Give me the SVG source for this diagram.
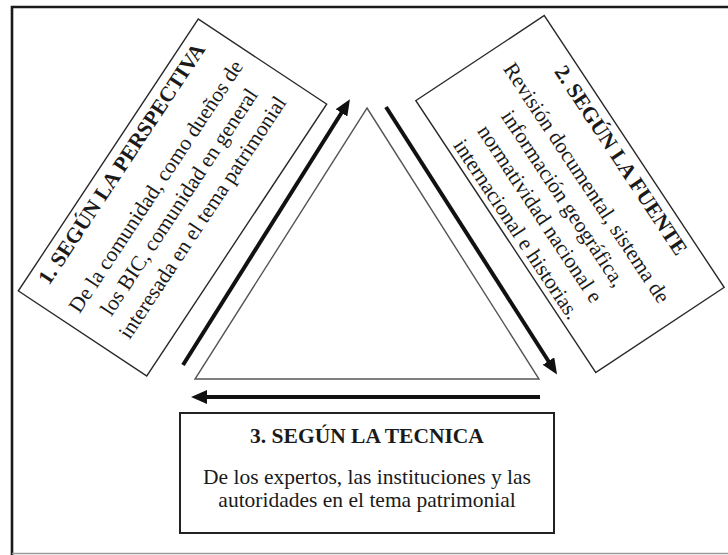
<svg xmlns="http://www.w3.org/2000/svg" width="728" height="555" viewBox="0 0 728 555">
<style>
.box{fill:#fff;stroke:#2a2a2a;stroke-width:1.4}
.t{font-family:'Liberation Serif','Tinos','DejaVu Serif',serif;font-size:21.5px;fill:#1a1a1a;text-anchor:middle}
.b{font-weight:bold}
.arr{stroke:#111;stroke-width:4;fill:none}
</style>
<defs>
<marker id="ah" markerUnits="userSpaceOnUse" markerWidth="16" markerHeight="14" refX="1" refY="6.5" orient="auto" viewBox="0 0 15 13">
<path d="M0,0 L15,6.5 L0,13 z" fill="#111"/>
</marker>
</defs>
<rect width="728" height="555" fill="#fff"/>
<g id="frame">
<path d="M12,555 V7 H728" fill="none" stroke="#1a1a1a" stroke-width="2.6"/>
<path d="M12,553.5 H728" fill="none" stroke="#9a9a9a" stroke-width="1.5"/>
</g>
<g id="triangle">
<path d="M367,108 L539,379 L195,379 Z" fill="none" stroke="#555" stroke-width="1.4"/>
</g>
<g id="connectors">
<line class="arr" x1="183" y1="365" x2="342" y2="112" marker-end="url(#ah)"/>
<line class="arr" x1="386" y1="107" x2="549" y2="362" marker-end="url(#ah)"/>
<line class="arr" x1="540" y1="397" x2="206" y2="397" marker-end="url(#ah)"/>
</g>
<g id="node1" transform="translate(172.5,197.5) rotate(-56.5)">
<rect class="box" x="-163" y="-77" width="326" height="154"/>
<text class="t b" x="0" y="-54">1. SEGÚN LA PERSPECTIVA</text>
<text class="t" x="0" y="-13">De la comunidad, como dueños de</text>
<text class="t" x="0" y="15">los BIC, comunidad en general</text>
<text class="t" x="0" y="43">interesada en el tema patrimonial</text>
</g>
<g id="node2" transform="translate(570,194) rotate(56.5)">
<rect class="box" x="-163" y="-77" width="326" height="154"/>
<text class="t b" x="0" y="-54">2. SEGÚN LA FUENTE</text>
<text class="t" x="0" y="-13">Revisión documental, sistema de</text>
<text class="t" x="0" y="15">información geográfica,</text>
<text class="t" x="0" y="43">normatividad nacional e</text>
<text class="t" x="0" y="71">internacional e historias.</text>
</g>
<g id="node3">
<rect x="180" y="413" width="374" height="120" fill="#fff" stroke="#222" stroke-width="2"/>
<text class="t b" x="367" y="443">3. SEGÚN LA TECNICA</text>
<text class="t" x="367" y="484">De los expertos, las instituciones y las</text>
<text class="t" x="367" y="507">autoridades en el tema patrimonial</text>
</g>
</svg>
